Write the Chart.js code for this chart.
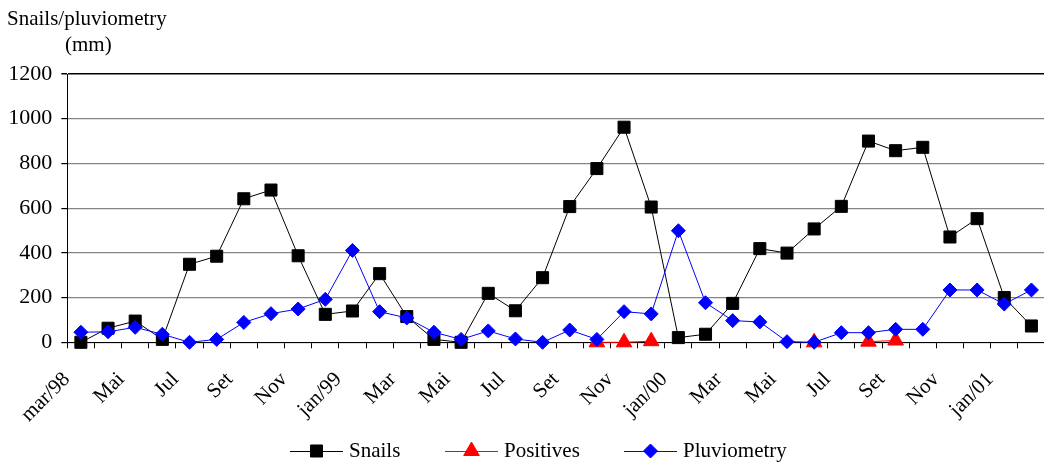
<!DOCTYPE html>
<html>
<head>
<meta charset="utf-8">
<script src="https://cdn.jsdelivr.net/npm/chart.js@4.4.1/dist/chart.umd.min.js"></script>
<style>
	html, body { margin: 0; padding: 0; background: #fff; overflow: hidden; }
	#graficoCaramujos { display: block; }
</style>
</head>
<body>
<canvas id="graficoCaramujos" width="1055" height="467"></canvas>
<script>
// meses da coleta (mar/98 a fev/01); só os pares aparecem no eixo
var meses = ['mar/98', 'Abr', 'Mai', 'Jun', 'Jul', 'Ago', 'Set', 'Out', 'Nov', 'Dez',
	'jan/99', 'Fev', 'Mar', 'Abr', 'Mai', 'Jun', 'Jul', 'Ago', 'Set', 'Out', 'Nov', 'Dez',
	'jan/00', 'Fev', 'Mar', 'Abr', 'Mai', 'Jun', 'Jul', 'Ago', 'Set', 'Out', 'Nov', 'Dez',
	'jan/01', 'Fev'];

var caramujos = [0, 63, 95, 13, 349, 385, 642, 681, 387, 125,
	140, 307, 115, 13, 0, 219, 141, 289, 607, 777, 962, 605,
	21, 36, 174, 419, 399, 507, 608, 900, 857, 872, 471, 553,
	200, 73];

var positivos = [null, null, null, null, null, null, null, null, null, null,
	null, null, null, null, null, null, null, null, null, 0, 0, 5,
	null, null, null, null, null, 0, null, 3, 8, null, null, null,
	null, null];

var pluviometria = [45, 47, 67, 36, 0, 13, 89, 128, 149, 192,
	411, 137, 109, 45, 13, 51, 15, 0, 55, 13, 137, 127,
	499, 177, 97, 91, 3, 0, 43, 43, 58, 58, 234, 234,
	171, 234];

var nomesSeries = ['Snails', 'Positives', 'Pluviometry'];
var tituloEixoY = ['Snails/pluviometry', '(mm)'];
var escalaY = { min: 0, max: 1200, passo: 200 };

var FONTE = '"Liberation Serif", "Times New Roman", serif';

// titulo do eixo Y, escrito na horizontal acima do eixo
var tituloEixo = {
	id: 'tituloEixo',
	afterDraw: function(chart) {
		var ctx = chart.ctx;
		ctx.save();
		ctx.fillStyle = '#000';
		ctx.font = '21px ' + FONTE;
		ctx.textBaseline = 'alphabetic';
		ctx.textAlign = 'left';
		ctx.fillText(tituloEixoY[0], 7, 25);
		ctx.fillText(tituloEixoY[1], 65, 51);
		ctx.restore();
	}
};

// legenda no estilo linha + marcador
var legendaLinhas = {
	id: 'legendaLinhas',
	afterDraw: function(chart) {
		var ctx = chart.ctx;
		var inicios = [290, 445, 624];
		var largura = 53;
		var y = 451;
		ctx.save();
		chart.data.datasets.forEach(function(ds, i) {
			var x0 = inicios[i];
			ctx.strokeStyle = ds.borderColor;
			ctx.lineWidth = 1;
			ctx.beginPath();
			ctx.moveTo(x0, y + 0.5);
			ctx.lineTo(x0 + largura, y + 0.5);
			ctx.stroke();

			ctx.fillStyle = ds.pointBackgroundColor;
			ctx.strokeStyle = ds.pointBorderColor;
			ctx.lineWidth = ds.pointBorderWidth;
			Chart.helpers.drawPoint(ctx, {
				pointStyle: ds.pointStyle,
				radius: ds.pointRadius,
				rotation: 0,
				borderWidth: ds.pointBorderWidth
			}, x0 + largura / 2, y);

			ctx.fillStyle = '#000';
			ctx.font = '21px ' + FONTE;
			ctx.textAlign = 'left';
			ctx.textBaseline = 'middle';
			ctx.fillText(ds.label, x0 + largura + 6, y);
		});
		ctx.restore();
	}
};

function serie(nome, dados, cor, estilo, raio, ordem) {
	return {
		label: nome,
		data: dados,
		borderColor: cor,
		borderWidth: 1,
		backgroundColor: cor,
		pointStyle: estilo,
		pointRadius: raio,
		pointHoverRadius: raio,
		pointBackgroundColor: cor,
		pointBorderColor: cor,
		pointBorderWidth: 1,
		tension: 0,
		spanGaps: false,
		clip: false,
		order: ordem
	};
}

var ctx = document.getElementById('graficoCaramujos').getContext('2d');

var grafico = new Chart(ctx, {
	type: 'line',
	data: {
		labels: meses,
		datasets: [
			serie(nomesSeries[0], caramujos, '#000000', 'rect', 8.5, 3),
			serie(nomesSeries[1], positivos, '#ff0000', 'triangle', 9, 2),
			serie(nomesSeries[2], pluviometria, '#0000ff', 'rectRot', 7, 1)
		]
	},
	options: {
		responsive: false,
		animation: false,
		devicePixelRatio: 1,
		layout: {
			padding: { top: 74, left: 0, right: 4, bottom: 0 }
		},
		plugins: {
			legend: { display: false },
			tooltip: { enabled: false }
		},
		scales: {
			x: {
				type: 'category',
				offset: true,
				afterFit: function(scale) {
					// rótulos inclinados não devem encolher a área do gráfico
					scale.height = 467 - 342.3;
					scale.paddingLeft = 0;
					scale.paddingRight = 0;
				},
				grid: {
					display: true,
					offset: true,
					drawOnChartArea: false,
					drawTicks: true,
					tickLength: 6,
					tickColor: '#000',
					color: '#000'
				},
				border: { display: true, color: '#000', width: 1 },
				ticks: {
					autoSkip: false,
					minRotation: 45,
					maxRotation: 45,
					labelOffset: -14,
					padding: 19,
					color: '#000',
					font: { family: FONTE, size: 21 },
					callback: function(valor, indice) {
						return indice % 2 === 0 ? this.getLabelForValue(valor) : '';
					}
				}
			},
			y: {
				min: escalaY.min,
				max: escalaY.max,
				afterFit: function(scale) {
					scale.width = 67.3;
				},
				grid: {
					color: function(c) {
						return c.tick && c.tick.value === escalaY.max ? '#000' : '#858585';
					},
					lineWidth: function(c) {
						return c.tick && c.tick.value === escalaY.max ? 1.5 : 1.2;
					},
					drawTicks: true,
					tickLength: 6,
					tickColor: '#000'
				},
				border: { display: true, color: '#000', width: 1 },
				ticks: {
					stepSize: escalaY.passo,
					padding: 9,
					color: '#000',
					font: { family: FONTE, size: 22 },
					callback: function(valor) {
						return String(valor);
					}
				}
			}
		}
	},
	plugins: [tituloEixo, legendaLinhas]
});
</script>
</body>
</html>
